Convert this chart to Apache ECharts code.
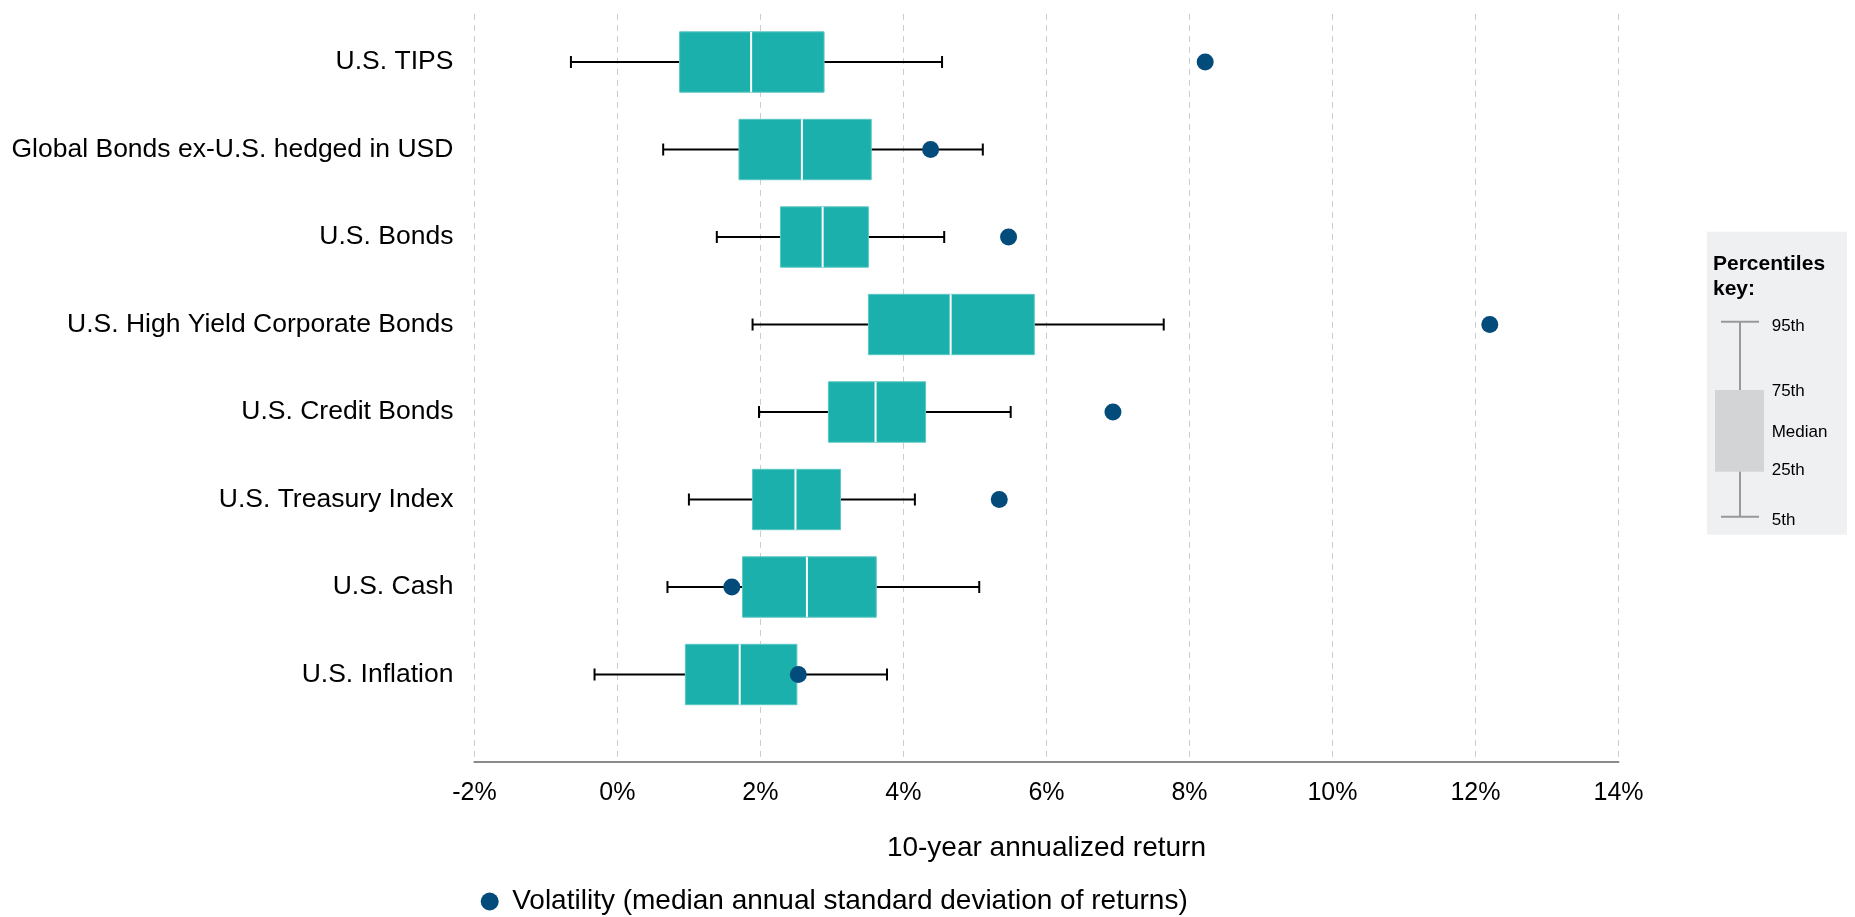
<!DOCTYPE html>
<html>
<head>
<meta charset="utf-8">
<script src="https://cdn.jsdelivr.net/npm/echarts@6/dist/echarts.min.js"></script>
<style>
html,body{margin:0;padding:0;background:#fff;}
#chart{width:1855px;height:917px;}
</style>
</head>
<body>
<div id="chart"></div>
<script>
// ---- data ----
const categories = [
  'U.S. TIPS',
  'Global Bonds ex-U.S. hedged in USD',
  'U.S. Bonds',
  'U.S. High Yield Corporate Bonds',
  'U.S. Credit Bonds',
  'U.S. Treasury Index',
  'U.S. Cash',
  'U.S. Inflation'
];
const p5     = [-0.65, 0.64, 1.39, 1.89, 1.98, 1.00, 0.70, -0.32];
const p25    = [0.87, 1.70, 2.28, 3.51, 2.95, 1.89, 1.75, 0.95];
const median = [1.87, 2.58, 2.87, 4.66, 3.61, 2.49, 2.65, 1.71];
const p75    = [2.89, 3.55, 3.51, 5.83, 4.31, 3.12, 3.62, 2.51];
const p95    = [4.54, 5.11, 4.57, 7.64, 5.50, 4.16, 5.06, 3.77];
const volatility = [8.22, 4.38, 5.47, 12.20, 6.93, 5.34, 1.60, 2.53];
const xTicks = [-2, 0, 2, 4, 6, 8, 10, 12, 14];
const volName = 'Volatility (median annual standard deviation of returns)';
const xName = '10-year annualized return';
const keyTitle = 'Percentiles\nkey:';
const keyLabels = ['95th', '75th', 'Median', '25th', '5th'];

// ---- styles ----
const FONT = '"Liberation Sans", Arial, Helvetica, sans-serif';
const BOX = '#1bb0ab';
const DOT = '#034b7a';

const boxData = categories.map((c, i) => [p5[i], p25[i], median[i], p75[i], p95[i], i]);
const dotData = volatility.map((v, i) => [v, i]);

function renderBox(params, api) {
  const yi = api.value(5);
  const lo = api.coord([api.value(0), yi]);
  const q1 = api.coord([api.value(1), yi]);
  const md = api.coord([api.value(2), yi]);
  const q3 = api.coord([api.value(3), yi]);
  const hi = api.coord([api.value(4), yi]);
  const bh = api.size([0, 1])[1] * 0.69;
  const cy = lo[1];
  const cap = 6;
  const wl = {stroke: '#000', lineWidth: 2};
  return {
    type: 'group',
    children: [
      {type: 'line', shape: {x1: lo[0], y1: cy, x2: q1[0], y2: cy}, style: wl},
      {type: 'line', shape: {x1: q3[0], y1: cy, x2: hi[0], y2: cy}, style: wl},
      {type: 'line', shape: {x1: lo[0], y1: cy - cap, x2: lo[0], y2: cy + cap}, style: wl},
      {type: 'line', shape: {x1: hi[0], y1: cy - cap, x2: hi[0], y2: cy + cap}, style: wl},
      {type: 'rect', shape: {x: q1[0], y: cy - bh / 2, width: q3[0] - q1[0], height: bh},
        style: {fill: BOX, stroke: '#5cc7c3', lineWidth: 1}},
      {type: 'line', shape: {x1: md[0], y1: cy - bh / 2, x2: md[0], y2: cy + bh / 2},
        style: {stroke: '#fff', lineWidth: 2}}
    ]
  };
}

const chart = echarts.init(document.getElementById('chart'), null, {renderer: 'canvas'});

const keyX = 1740;
const option = {
  backgroundColor: '#fff',
  animation: false,
  textStyle: {fontFamily: FONT},
  grid: {
    left: 474.4, right: 236.5, top: 13.9, bottom: 155,
    containLabel: false, outerBoundsMode: 'none'
  },
  xAxis: {
    type: 'value',
    min: xTicks[0], max: xTicks[xTicks.length - 1], interval: 2,
    name: xName, nameLocation: 'middle', nameGap: 72,
    nameTextStyle: {fontSize: 28, color: '#000', fontFamily: FONT},
    axisLine: {show: true, onZero: false, lineStyle: {color: '#8a8a8a', width: 2}},
    axisTick: {show: false},
    axisLabel: {formatter: '{value}%', fontSize: 25, color: '#000', margin: 19, fontFamily: FONT},
    splitLine: {show: true, lineStyle: {color: '#cccccc', type: [6, 5], width: 1}}
  },
  yAxis: {
    type: 'value', inverse: true,
    min: -0.55, max: 8, interval: 0.05,
    axisLine: {show: false, onZero: false}, axisTick: {show: false}, splitLine: {show: false},
    axisLabel: {
      fontSize: 26.5, color: '#000', margin: 21, fontFamily: FONT,
      formatter: function (v) {
        const r = Math.round(v);
        if (Math.abs(v - r) < 1e-6 && r >= 0 && r < categories.length) return categories[r];
        return '';
      }
    }
  },
  legend: {
    data: [{name: volName, icon: 'circle'}],
    left: 480.7, top: 887.5, padding: 0,
    itemWidth: 35, itemHeight: 18,
    textStyle: {fontSize: 28, color: '#000', fontFamily: FONT}
  },
  series: [
    {
      type: 'custom', name: 'box',
      renderItem: renderBox,
      encode: {x: [0, 1, 2, 3, 4], y: 5},
      data: boxData, z: 2
    },
    {
      type: 'scatter', name: volName,
      data: dotData, symbol: 'circle', symbolSize: 17,
      itemStyle: {color: DOT, opacity: 1}, z: 5
    }
  ],
  graphic: [
    {type: 'rect', left: 1707, top: 231.7, shape: {width: 140, height: 303}, style: {fill: '#eff0f2'}, z: 1},
    {type: 'text', left: 1713, top: 252, style: {text: keyTitle, font: 'bold 21px ' + FONT, fill: '#000', lineHeight: 25}, z: 2},
    {type: 'line', shape: {x1: keyX, y1: 321.7, x2: keyX, y2: 516.7}, style: {stroke: '#999', lineWidth: 2}, z: 2},
    {type: 'line', shape: {x1: 1721, y1: 321.7, x2: 1759, y2: 321.7}, style: {stroke: '#999', lineWidth: 2}, z: 2},
    {type: 'line', shape: {x1: 1721, y1: 516.7, x2: 1759, y2: 516.7}, style: {stroke: '#999', lineWidth: 2}, z: 2},
    {type: 'rect', shape: {x: 1715, y: 390, width: 49, height: 81.7}, style: {fill: '#d3d4d6'}, z: 3},
    {type: 'text', x: 1771.7, y: 326, style: {text: keyLabels[0], font: '17px ' + FONT, fill: '#000', verticalAlign: 'middle'}, z: 3},
    {type: 'text', x: 1771.7, y: 391.7, style: {text: keyLabels[1], font: '17px ' + FONT, fill: '#000', verticalAlign: 'middle'}, z: 3},
    {type: 'text', x: 1771.7, y: 432.3, style: {text: keyLabels[2], font: '17px ' + FONT, fill: '#000', verticalAlign: 'middle'}, z: 3},
    {type: 'text', x: 1771.7, y: 470.7, style: {text: keyLabels[3], font: '17px ' + FONT, fill: '#000', verticalAlign: 'middle'}, z: 3},
    {type: 'text', x: 1771.7, y: 520, style: {text: keyLabels[4], font: '17px ' + FONT, fill: '#000', verticalAlign: 'middle'}, z: 3}
  ]
};
chart.setOption(option);
</script>
</body>
</html>
